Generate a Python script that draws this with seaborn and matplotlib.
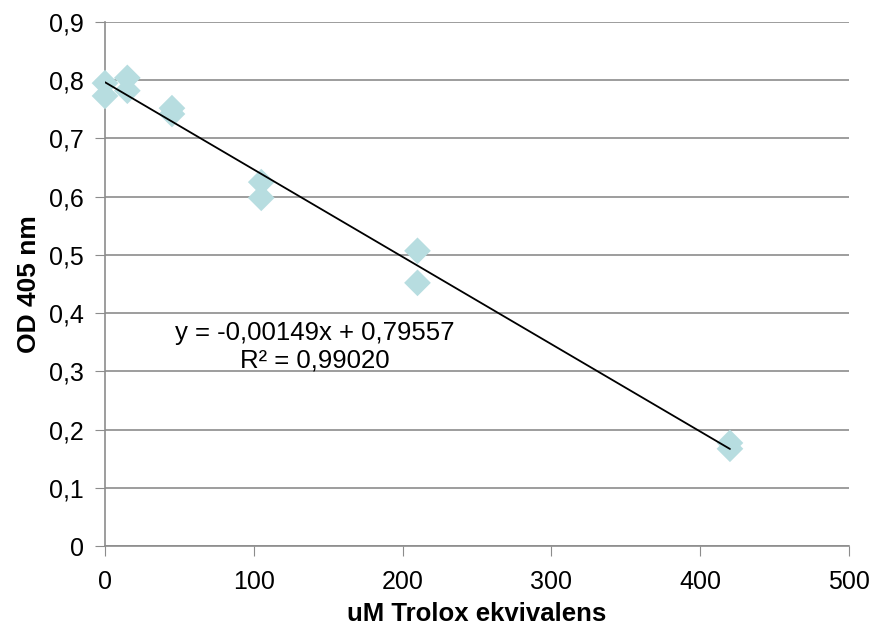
import numpy as np
import pandas as pd
import matplotlib
matplotlib.use("Agg")
import matplotlib.pyplot as plt
import seaborn as sns

# data
trolox_um = [0, 0, 15, 15, 45, 45, 105, 105, 210, 210, 420, 420]
od_405 = [0.795, 0.773, 0.804, 0.782, 0.752, 0.742, 0.625, 0.598, 0.507, 0.452, 0.177, 0.167]
eq_text = "y = -0,00149x + 0,79557\nR² = 0,99020"

df = pd.DataFrame({"x": trolox_um, "y": od_405})

sns.set_style("white")
plt.rcParams["font.family"] = ["Liberation Sans", "DejaVu Sans"]
plt.rcParams["text.color"] = "black"
plt.rcParams["axes.labelcolor"] = "black"

fig = plt.figure(figsize=(8.71, 6.30), dpi=100)
ax = fig.add_axes([105 / 871, 1 - 546 / 630, (849 - 105) / 871, (546 - 22) / 630])

sns.scatterplot(data=df, x="x", y="y", marker="D", s=185, color="#b7dde0",
                edgecolor="none", ax=ax, zorder=3, clip_on=False)

# linear trendline
slope, intercept = np.polyfit(df["x"], df["y"], 1)
xs = np.array([df["x"].min(), df["x"].max()])
ax.plot(xs, slope * xs + intercept, color="black", lw=1.3, zorder=4)

ax.set_xlim(0, 500)
ax.set_ylim(0, 0.9)
ax.set_xticks(range(0, 501, 100))
ax.set_yticks(np.arange(0, 0.91, 0.1))
ax.set_yticklabels([f"{v:.1f}".replace(".", ",") if v > 0 else "0" for v in np.arange(0, 0.91, 0.1)])
ax.yaxis.grid(True, color="#8c8c8c", lw=1.2)
ax.set_axisbelow(True)
for side in ["top", "right"]:
    ax.spines[side].set_visible(False)
for side in ["left", "bottom"]:
    ax.spines[side].set_color("#8c8c8c")
    ax.spines[side].set_linewidth(1.2)
ax.tick_params(axis="both", labelsize=18, length=7, color="#8c8c8c", direction="out",
               labelcolor="black")
ax.tick_params(axis="x", pad=10)
ax.tick_params(axis="y", pad=8)
ax.xaxis.set_ticks_position("bottom")
ax.yaxis.set_ticks_position("left")

ax.set_xlabel("uM Trolox ekvivalens", fontsize=18.5, fontweight="bold", labelpad=6, color="black")
ax.set_ylabel("OD 405 nm", fontsize=19, fontweight="bold", labelpad=6, color="black")

ax.text(141, 0.342, eq_text, fontsize=18.5, ha="center", va="center", linespacing=1.15)

fig.savefig("out.png", dpi=100)
